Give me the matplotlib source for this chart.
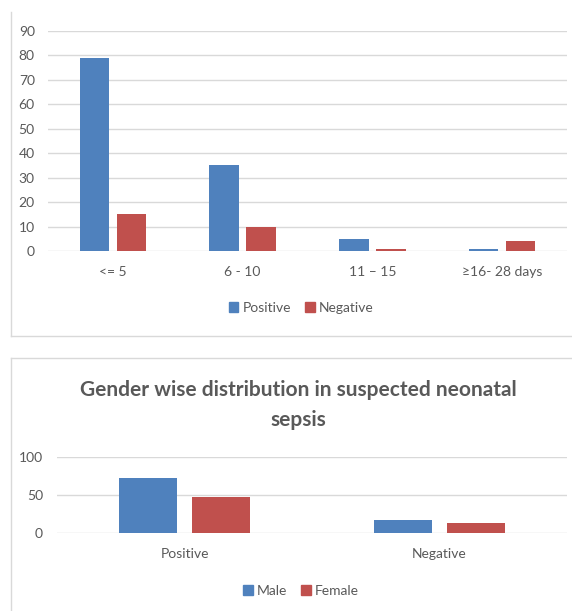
import matplotlib
matplotlib.use("Agg")
import matplotlib.pyplot as plt
import numpy as np
from matplotlib.patches import Patch
from matplotlib.lines import Line2D

plt.rcParams["font.family"] = ["Lato", "DejaVu Sans"]

# age groups (days) vs culture result
age_groups = ["<= 5", "6 - 10", "11 \u2013 15", "\u226516- 28 days"]
positive = [79, 35, 5, 1]
negative = [15, 10, 1, 4]

# gender vs culture result
gender_groups = ["Positive", "Negative"]
male = [72, 17]
female = [48, 13]

BLUE = "#4f81bd"
RED = "#c0504d"
TEXT = "#595959"
GRID = "#d9d9d9"
FRAME = "#d9d9d9"

W, H = 572, 611
fig = plt.figure(figsize=(W / 100, H / 100), dpi=100)


def px_axes(left, top, right, bottom):
    return fig.add_axes([left / W, 1 - bottom / H, (right - left) / W, (bottom - top) / H])


def style(ax, ymax, step, ypad):
    ax.set_ylim(0, ymax)
    ax.set_yticks(np.arange(0, ymax + 1, step))
    for s in ax.spines.values():
        s.set_visible(False)
    ax.yaxis.grid(True, color=GRID, lw=1.0)
    ax.set_axisbelow(True)
    ax.tick_params(axis="y", length=0, pad=ypad, labelsize=10, labelcolor=TEXT)
    ax.tick_params(axis="x", length=0, pad=11, labelsize=10, labelcolor=TEXT)


def frame_line(x0, y0, x1, y1):
    fig.add_artist(Line2D([x0 / W, x1 / W], [1 - y0 / H, 1 - y1 / H],
                          color=FRAME, lw=1.0, transform=fig.transFigure))


width = 0.227
offset = 0.143

# top chart: age at presentation
ax1 = px_axes(48, 31, 567, 251)
x = np.arange(len(age_groups))
ax1.bar(x - offset, positive, width, color=BLUE, label="Positive")
ax1.bar(x + offset, negative, width, color=RED, label="Negative")
ax1.set_xlim(-0.5, len(age_groups) - 0.5)
ax1.set_xticks(x)
ax1.set_xticklabels(age_groups)
style(ax1, 90, 10, 9.5)

handles = [Patch(color=BLUE), Patch(color=RED)]
fig.legend(handles, ["Positive", "Negative"], loc="center",
           bbox_to_anchor=(301 / W, 1 - 308 / H), ncol=2, frameon=False,
           fontsize=10, labelcolor=TEXT, handlelength=0.7, handleheight=0.7,
           handletextpad=0.3, columnspacing=1.0)

frame_line(11, 12, 11, 336)
frame_line(11, 336, W, 336)

# bottom chart: gender split
ax2 = px_axes(57, 457, 567, 533)
x2 = np.arange(len(gender_groups))
ax2.bar(x2 - offset, male, width, color=BLUE, label="Male")
ax2.bar(x2 + offset, female, width, color=RED, label="Female")
ax2.set_xlim(-0.5, len(gender_groups) - 0.5)
ax2.set_xticks(x2)
ax2.set_xticklabels(gender_groups)
style(ax2, 100, 50, 10)

fig.text(298 / W, 1 - 405 / H,
         "Gender wise distribution in suspected neonatal\nsepsis",
         ha="center", va="center", fontsize=15, fontweight="bold",
         color=TEXT, linespacing=1.65)

fig.legend(handles, ["Male", "Female"], loc="center",
           bbox_to_anchor=(301 / W, 1 - 591 / H), ncol=2, frameon=False,
           fontsize=10, labelcolor=TEXT, handlelength=0.7, handleheight=0.7,
           handletextpad=0.3, columnspacing=1.0)

frame_line(11, 358, W, 358)
frame_line(11, 358, 11, H)

fig.savefig("out.png", dpi=100, facecolor="white")
